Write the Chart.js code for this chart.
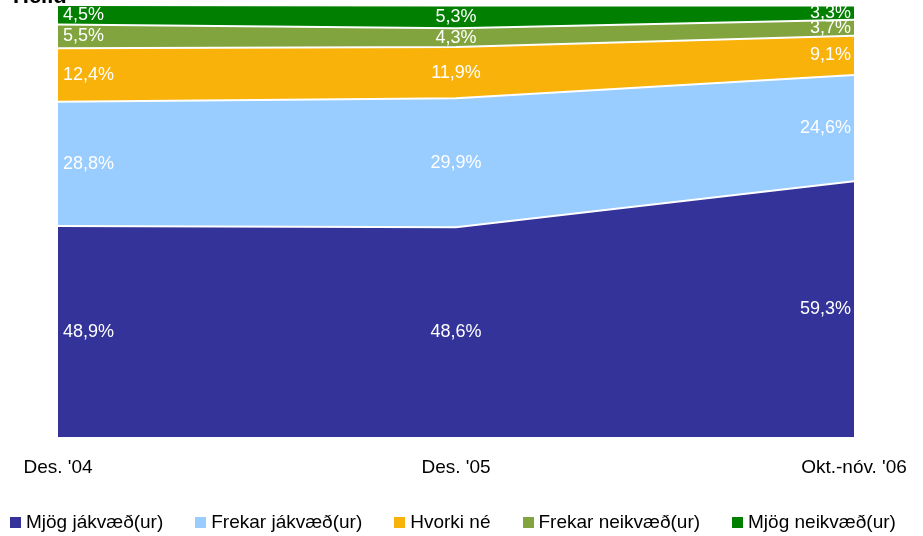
<!DOCTYPE html>
<html>
<head>
<meta charset="utf-8">
<title>Heild</title>
<script src="https://cdn.jsdelivr.net/npm/chart.js@4.4.0/dist/chart.umd.min.js"></script>
<style>
  body { margin: 0; background: #fff; }
  #wrap { width: 923px; height: 536px; position: relative; }
  #legend { position: absolute; left: 10px; top: 511px; display: flex; gap: 32px;
            font: 19px 'Liberation Sans', Arial, sans-serif; color: #000; white-space: nowrap; }
  #legend span.box { display: inline-block; width: 11px; height: 11px; margin-right: 5px; vertical-align: 0px; }
</style>
</head>
<body>
<div id="wrap"><canvas id="myChart"></canvas><div id="legend"></div></div>
<script>
// periods on the x axis
let periods = ["Des. '04", "Des. '05", "Okt.-nóv. '06"];
// series, bottom to top (percent)
let mjogJakvaed = [48.9, 48.6, 59.3];
let frekarJakvaed = [28.8, 29.9, 24.6];
let hvorkiNe = [12.4, 11.9, 9.1];
let frekarNeikvaed = [5.5, 4.3, 3.7];
let mjogNeikvaed = [4.5, 5.3, 3.3];
let seriesNames = ["Mjög jákvæð(ur)", "Frekar jákvæð(ur)", "Hvorki né", "Frekar neikvæð(ur)", "Mjög neikvæð(ur)"];

let fontFam = "'Liberation Sans', Arial, sans-serif";
let colors = ["#333399", "#99CCFF", "#F8B20A", "#81A43E", "#007F00"];
let allSeries = [mjogJakvaed, frekarJakvaed, hvorkiNe, frekarNeikvaed, mjogNeikvaed];

let datasets = allSeries.map(function (vals, i) {
    return {
        label: seriesNames[i],
        data: vals,
        backgroundColor: colors[i],
        borderColor: "#ffffff",
        borderWidth: 2,
        fill: i == 0 ? "origin" : "-1",
        pointRadius: 0,
        tension: 0
    };
});

// legend built by hand so it stays on one row
let _legend = document.getElementById("legend");
seriesNames.forEach(function (name, i) {
    let item = document.createElement("div");
    let box = document.createElement("span");
    box.className = "box";
    box.style.background = colors[i];
    item.appendChild(box);
    item.appendChild(document.createTextNode(name));
    _legend.appendChild(item);
});

// puts the percentage in the middle of each band
let valueLabels = {
    id: "valueLabels",
    afterDatasetsDraw: function (chart) {
        let ctx = chart.ctx;
        let yScale = chart.scales.y;
        ctx.save();
        ctx.fillStyle = "#ffffff";
        ctx.font = "18px " + fontFam;
        ctx.textBaseline = "middle";
        for (let d = 0; d < chart.data.datasets.length; d++) {
            let meta = chart.getDatasetMeta(d);
            let prev = d > 0 ? chart.getDatasetMeta(d - 1) : null;
            for (let i = 0; i < meta.data.length; i++) {
                let pt = meta.data[i];
                let bottom = prev ? prev.data[i].y : yScale.getPixelForValue(0);
                let y = (pt.y + bottom) / 2;
                let x = pt.x;
                if (i == 0) { ctx.textAlign = "left"; x += 5; }
                else if (i == meta.data.length - 1) { ctx.textAlign = "right"; x -= 3; }
                else ctx.textAlign = "center";
                let txt = chart.data.datasets[d].data[i].toFixed(1).replace(".", ",") + "%";
                ctx.fillText(txt, x, y);
            }
        }
        ctx.restore();
    }
};

// title sits mostly above the picture, only its foot shows
let cutTitle = {
    id: "cutTitle",
    afterDraw: function (chart) {
        let ctx = chart.ctx;
        ctx.save();
        ctx.fillStyle = "#000";
        ctx.font = "bold 22px " + fontFam;
        ctx.textAlign = "left";
        ctx.textBaseline = "alphabetic";
        ctx.fillText("Heild", 13, 3);
        ctx.restore();
    }
};

let ctx = document.getElementById("myChart").getContext("2d");
let myChart = new Chart(ctx, {
    type: "line",
    data: { labels: periods, datasets: datasets },
    plugins: [valueLabels, cutTitle],
    options: {
        responsive: true,
        maintainAspectRatio: false,
        animation: false,
        layout: { padding: { left: 58, right: 69, top: 5, bottom: 46 } },
        scales: {
            x: {
                offset: false,
                grid: { display: false },
                border: { display: false },
                ticks: { color: "#000", padding: 11, maxRotation: 0, font: { size: 19, family: fontFam } }
            },
            y: {
                display: false,
                stacked: true,
                min: 0,
                max: 100.1
            }
        },
        plugins: {
            legend: { display: false },
            tooltip: { enabled: false }
        }
    }
});
</script>
</body>
</html>
